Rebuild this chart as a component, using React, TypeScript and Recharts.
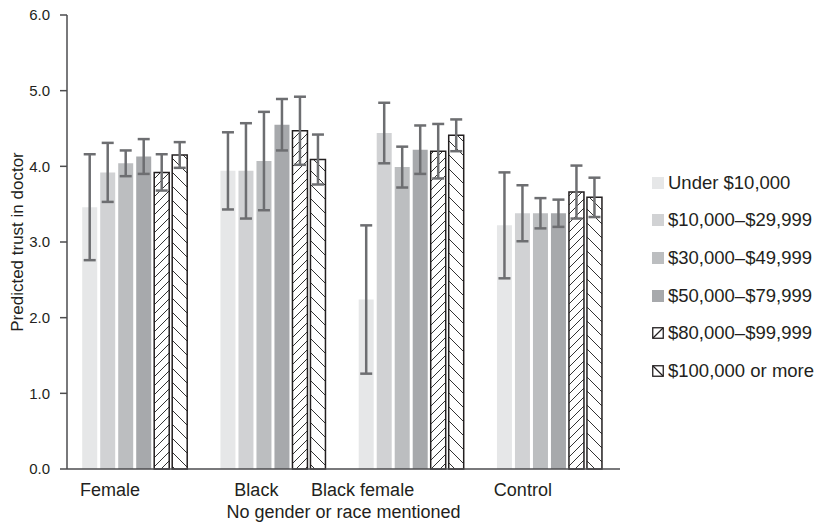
import React from 'react';
import { BarChart, Bar, XAxis, YAxis, ErrorBar, Label } from 'recharts';

const groups = ['Female', 'Black', 'Black female', 'Control'];
const incomeBands = [
  'Under $10,000',
  '$10,000–$29,999',
  '$30,000–$49,999',
  '$50,000–$79,999',
  '$80,000–$99,999',
  '$100,000 or more',
];

// predicted trust per income band, one value per group
const under10k = [3.46, 3.94, 2.24, 3.22];
const from10k = [3.92, 3.94, 4.44, 3.38];
const from30k = [4.04, 4.07, 3.99, 3.38];
const from50k = [4.13, 4.55, 4.22, 3.38];
const from80k = [3.92, 4.47, 4.2, 3.66];
const over100k = [4.15, 4.09, 4.41, 3.59];

// half-width of the confidence interval for each bar
const under10kErr = [0.7, 0.51, 0.98, 0.7];
const from10kErr = [0.39, 0.63, 0.4, 0.37];
const from30kErr = [0.17, 0.65, 0.27, 0.2];
const from50kErr = [0.23, 0.34, 0.32, 0.18];
const from80kErr = [0.24, 0.45, 0.36, 0.35];
const over100kErr = [0.17, 0.33, 0.21, 0.26];

const yTicks = [0, 1, 2, 3, 4, 5, 6];

const seriesValues = [under10k, from10k, from30k, from50k, from80k, over100k];
const seriesErrors = [under10kErr, from10kErr, from30kErr, from50kErr, from80kErr, over100kErr];

const fills = ['#e6e7e8', '#d1d2d4', '#bcbec0', '#a7a9ac', 'url(#hatchUp)', 'url(#hatchDown)'];
const hatched = [false, false, false, false, true, true];
const tickShift = [-26, -18, -50, -28];

const FONT = '"Liberation Sans", Arial, Helvetica, sans-serif';
const INK = '#231f20';
const ERR = '#6d6e71';

const data = groups.map((name, i) => {
  const row: Record<string, string | number> = { name };
  seriesValues.forEach((vals, s) => {
    row[`s${s}`] = vals[i];
    row[`e${s}`] = seriesErrors[s][i];
  });
  return row;
});

function GroupTick({ x, y, payload, index }: any) {
  return (
    <text
      x={x + tickShift[index]}
      y={y + 25}
      textAnchor="middle"
      fontSize={18}
      fontFamily={FONT}
      fill={INK}
    >
      {payload.value}
    </text>
  );
}

function Swatch({ idx }: { idx: number }) {
  if (!hatched[idx]) {
    return (
      <svg width={12} height={12}>
        <rect x={0} y={0} width={12} height={12} fill={fills[idx]} />
      </svg>
    );
  }
  const d = idx === 4 ? 'M1,11 L11,1' : 'M1,1 L11,11';
  return (
    <svg width={12} height={12}>
      <rect x={0.75} y={0.75} width={10.5} height={10.5} fill="#fff" stroke="#231f20" strokeWidth={1.3} />
      <path d={d} stroke="#231f20" strokeWidth={1.2} />
    </svg>
  );
}

function IncomeLegend() {
  return (
    <div style={{ position: 'absolute', left: 652, top: 164, fontFamily: FONT, fontSize: 18.5, color: INK }}>
      {incomeBands.map((band, i) => (
        <div key={band} style={{ display: 'flex', alignItems: 'center', height: 37.6 }}>
          <Swatch idx={i} />
          <span style={{ marginLeft: 4 }}>{band}</span>
        </div>
      ))}
    </div>
  );
}

export default function App() {
  return (
    <div style={{ position: 'absolute', left: 0, top: 0, width: 827, height: 525, background: '#fff' }}>
      <BarChart
        width={827}
        height={525}
        data={data}
        margin={{ top: 15, right: 207, left: 0, bottom: 0 }}
        barCategoryGap="11%"
        barGap={3}
      >
        <defs>
          <pattern id="hatchUp" patternUnits="userSpaceOnUse" width={9} height={9}>
            <rect width={9} height={9} fill="#fff" />
            <path d="M-1,1 L1,-1 M0,9 L9,0 M8,10 L10,8" stroke="#333" strokeWidth={1} />
          </pattern>
          <pattern id="hatchDown" patternUnits="userSpaceOnUse" width={14} height={14}>
            <rect width={14} height={14} fill="#fff" />
            <path d="M-1,13 L1,15 M0,0 L14,14 M13,-1 L15,1" stroke="#333" strokeWidth={1} />
          </pattern>
        </defs>
        <XAxis
          dataKey="name"
          height={56}
          tickLine={false}
          tickSize={0}
          tick={<GroupTick />}
          axisLine={{ stroke: '#4d4d4f', strokeWidth: 1.5 }}
        >
          <Label
            value="No gender or race mentioned"
            position="insideBottom"
            offset={7}
            style={{ fontSize: 18, fontFamily: FONT, fill: INK }}
          />
        </XAxis>
        <YAxis
          width={67}
          domain={[0, 6]}
          ticks={yTicks}
          tickFormatter={(v: number) => v.toFixed(1)}
          tickSize={7}
          tickMargin={10}
          tick={{ fontSize: 15, fontFamily: FONT, fill: INK }}
          tickLine={{ stroke: '#4d4d4f', strokeWidth: 1.5 }}
          axisLine={{ stroke: '#4d4d4f', strokeWidth: 1.5 }}
        >
          <Label
            value="Predicted trust in doctor"
            angle={-90}
            position="insideLeft"
            offset={17}
            style={{ fontSize: 17, fontFamily: FONT, fill: INK, textAnchor: 'middle' }}
          />
        </YAxis>
        {incomeBands.map((band, s) => (
          <Bar
            key={band}
            dataKey={`s${s}`}
            name={band}
            fill={fills[s]}
            stroke={hatched[s] ? '#231f20' : 'none'}
            strokeWidth={hatched[s] ? 1.5 : 0}
            isAnimationActive={false}
          >
            <ErrorBar
              dataKey={`e${s}`}
              direction="y"
              width={6}
              strokeWidth={2.5}
              stroke={ERR}
              isAnimationActive={false}
            />
          </Bar>
        ))}
      </BarChart>
      <IncomeLegend />
    </div>
  );
}
